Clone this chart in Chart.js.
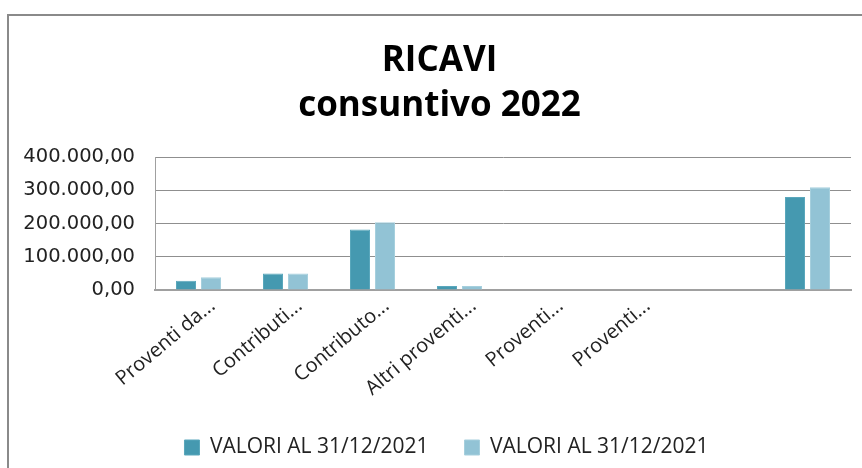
<!DOCTYPE html>
<html>
<head>
<meta charset="utf-8">
<script src="https://cdn.jsdelivr.net/npm/chart.js@4"></script>
<style>
  html, body { margin: 0; padding: 0; background: #fff; }
  #wrap { position: relative; width: 862px; height: 468px; overflow: hidden; }
  #frame { position: absolute; left: 7px; top: 14px; width: 900px; height: 500px;
           border-top: 2px solid #8a8a8a; border-left: 2px solid #8a8a8a; }
  canvas { position: absolute; left: 0; top: 0; }
</style>
</head>
<body>
<div id="wrap">
  <div id="frame"></div>
  <canvas id="chart" width="862" height="468"></canvas>
</div>
<script>
// categories (Excel truncates the long names with "...")
const categories = ['Proventi da...', 'Contributi...', 'Contributo...', 'Altri proventi...', 'Proventi...', 'Proventi...', '', ''];
const seriesNames = ['VALORI AL 31/12/2021', 'VALORI AL 31/12/2021'];
const seriesA = [28000, 50000, 182000, 12000, 0, 0, 0, 280000];
const seriesB = [38000, 50000, 204000, 12000, 0, 0, 0, 309000];
const yTickLabels = ['0,00', '100.000,00', '200.000,00', '300.000,00', '400.000,00'];

// the original centres title and legend a bit right of the canvas centre
const shiftBoxes = {
  id: 'shiftBoxes',
  afterLayout(chart) {
    if (chart.titleBlock) { chart.titleBlock.left += 9; chart.titleBlock.right += 9; }
    if (chart.legend) { chart.legend.left += 16; chart.legend.right += 16; }
  }
};

const ctx = document.getElementById('chart').getContext('2d');
new Chart(ctx, {
  type: 'bar',
  data: {
    labels: categories,
    datasets: [
      { label: seriesNames[0], data: seriesA, backgroundColor: '#4599b0', borderColor: '#5aa7bc', borderWidth: 1,
        categoryPercentage: 0.575, barPercentage: 0.8 },
      { label: seriesNames[1], data: seriesB, backgroundColor: '#92c3d5', borderColor: '#a6cfdd', borderWidth: 1,
        categoryPercentage: 0.575, barPercentage: 0.8 }
    ]
  },
  plugins: [shiftBoxes],
  options: {
    responsive: false,
    animation: false,
    layout: { padding: { left: 10, right: 11, top: 0, bottom: 0 } },
    plugins: {
      title: {
        display: true,
        text: ['RICAVI', 'consuntivo 2022'],
        color: '#000',
        font: { family: 'Open Sans', size: 35, weight: 'bold', lineHeight: 1.3 },
        padding: { top: 38, bottom: 28 }
      },
      legend: {
        position: 'bottom',
        labels: {
          color: '#222',
          font: { family: 'Open Sans', size: 21 },
          boxWidth: 15, boxHeight: 15, padding: 36
        }
      },
      tooltip: { enabled: false }
    },
    scales: {
      x: {
        grid: { display: false, drawTicks: false },
        border: { color: '#a0a0a0', width: 2 },
        ticks: {
          color: '#222', font: { family: 'Open Sans', size: 20 },
          minRotation: 40, maxRotation: 40, autoSkip: false, labelOffset: 14, padding: 4
        },
        afterFit: s => { s.height = 111; }
      },
      y: {
        min: 0, max: 400000,
        grid: { color: '#8f8f8f', lineWidth: 1, drawTicks: false },
        border: { color: '#a0a0a0', width: 1 },
        ticks: {
          stepSize: 100000, padding: 20, color: '#222',
          font: { family: 'DejaVu Sans', size: 19.5 },
          callback: (v, i) => yTickLabels[i]
        },
        afterFit: s => { s.width = 145; }
      }
    }
  }
});
</script>
</body>
</html>
